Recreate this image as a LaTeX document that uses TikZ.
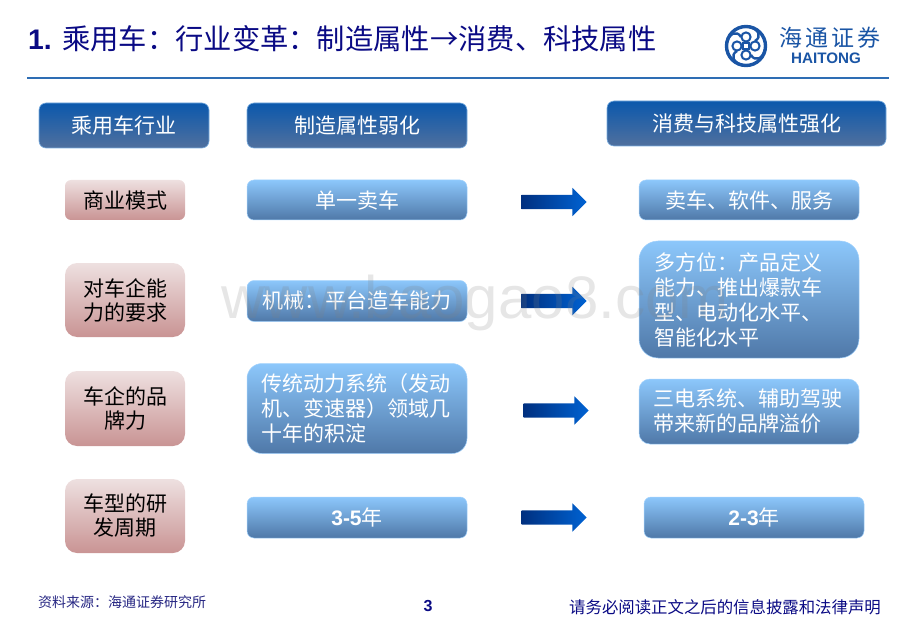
\documentclass[tikz,border=0pt]{standalone}
\usepackage{fontspec}
\setmainfont{Noto Sans CJK SC}
\newfontfamily\latinfont{Liberation Sans}
\usepackage{xcolor}
\usetikzlibrary{positioning,shapes.arrows}
\definecolor{titleblue}{HTML}{0A0A84}
\definecolor{ruleblue}{HTML}{2E6DB4}
\definecolor{logoblue}{HTML}{1A55A5}
\definecolor{headtop}{HTML}{0B58AC}
\definecolor{headmid}{HTML}{0A4F9F}
\definecolor{headbot}{HTML}{50709E}
\definecolor{skytop}{HTML}{8CC7FB}
\definecolor{skybot}{HTML}{4F78A8}
\definecolor{pinktop}{HTML}{EEE0E0}
\definecolor{pinkbot}{HTML}{C99494}
\definecolor{arrowtail}{HTML}{003080}
\definecolor{arrowtip}{HTML}{0062D2}

\begin{document}
\begin{tikzpicture}[x=1pt ,y=-1pt ,on grid ,
headbox/.style ={ rectangle ,rounded corners=7pt ,top color=headtop ,middle color=headmid ,bottom color=headbot , draw=skytop!70!headbot ,line width=.6pt , text=white ,font=\fontsize{21}{24}\selectfont ,inner sep=0pt ,minimum height=45pt},
skybox/.style ={ rectangle ,rounded corners=7pt ,top color=skytop ,bottom color=skybot , draw=skytop!80!white ,line width=.5pt , text=white ,font=\fontsize{21}{25}\selectfont ,inner sep=0pt ,minimum width=220pt ,minimum height=40pt},
pinkbox/.style ={ rectangle ,rounded corners=7pt ,top color=pinktop ,bottom color=pinkbot , text=black ,font=\fontsize{21}{24}\selectfont ,align=center ,inner sep=0pt ,minimum width=120pt ,minimum height=40pt},
bigarrow/.style ={ single arrow ,left color=arrowtail ,right color=arrowtip ,inner sep=7pt ,outer sep=0pt ,single arrow head extend=7pt ,minimum width=28pt ,minimum height=65pt}]
\useasboundingbox (0,0) rectangle (920,636);
% title and logo
\node[anchor=west ,inner sep=0pt ,text=titleblue ,font=\fontsize{28.3}{32}\selectfont] (title) at (28,39) {{\latinfont\bfseries 1. }乘用车：行业变革：制造属性→消费、科技属性};
\coordinate (ruleL) at (27,78);
\coordinate (ruleR) at (889,78);
\draw[ruleblue ,line width=1.6pt] (ruleL) -- (ruleR);
\node[circle ,draw=logoblue ,line width=3.4pt ,minimum size=39pt ,inner sep=0pt] (ring) at (746,46) {};
\foreach \ang in {0,90,180,270} {
\begin{scope}[shift={(ring.center)} ,rotate=\ang]
\draw[logoblue ,line width=2pt] (9,0) circle (4.6);
\draw[logoblue ,line width=2.4pt] (9,-5) .. controls (16,-9) and (13,-17) .. (3,-19);
\end{scope}
}
\node[fill=white ,draw=logoblue ,line width=1.6pt ,minimum size=6pt ,inner sep=0pt] (knot) at (ring.center) {};
\node[inner sep=0pt ,text=logoblue ,font=\fontsize{23}{25}\selectfont\addfontfeature{LetterSpace=12}] (brand) at (830,38) {海通证券};
\node[inner sep=0pt ,text=logoblue ,font=\fontsize{15.2}{17}\latinfont\bfseries] (haitong) at (826,58) {HAITONG};
% left column
\node[headbox ,minimum width=170pt] (industry) at (124,125.5) {乘用车行业};
\node[pinkbox ,rounded corners=6pt] (model) [below = 74.5pt of industry ,xshift=1pt] {商业模式};
\node[pinkbox ,minimum height=74pt ,rounded corners=12pt] (ability) [below = 100pt of model] {对车企能\\力的要求};
\node[pinkbox ,minimum height=75pt ,rounded corners=12pt] (brandpow) [below = 108.5pt of ability] {车企的品\\牌力};
\node[pinkbox ,minimum height=74pt ,rounded corners=12pt] (cycle) [below = 107.5pt of brandpow] {车型的研\\发周期};
% middle column
\node[headbox ,minimum width=220pt] (weak) [right = 233pt of industry] {制造属性弱化};
\node[skybox] (sellcar) [right = 232pt of model] {单一卖车};
\node[skybox ,minimum height=41pt] (mech) [right = 232pt of ability ,yshift=-1pt] {机械：平台造车能力};
\node[skybox ,minimum height=90pt ,rounded corners=15pt ,text width=192pt ,align=left] (power) [right = 232pt of brandpow] {传统动力系统（发动\\机、变速器）领域几\\十年的积淀};
\node[skybox ,minimum height=41pt] (years) [right = 232pt of cycle ,yshift=-1.5pt] {{\latinfont\bfseries 3-5}年};
% arrows
\node[bigarrow] (go1) [right = 193.5pt of sellcar ,yshift=-2pt] {};
\node[bigarrow] (go2) [right = 193.5pt of mech] {};
\node[bigarrow] (go3) [right = 195.5pt of power ,yshift=-2pt] {};
\node[bigarrow] (go4) [right = 193.5pt of years] {};
% right column
\node[headbox ,minimum width=279pt] (strong) at (746.5,123.5) {消费与科技属性强化};
\node[skybox] (service) at (749,200) {卖车、软件、服务};
\node[skybox ,minimum height=117pt ,rounded corners=19pt ,text width=189pt ,align=left] (multi) at (749,299.5) {多方位：产品定义\\能力、推出爆款车\\型、电动化水平、\\智能化水平};
\node[skybox ,minimum height=65pt ,rounded corners=11pt ,text width=192pt ,align=left] (three) at (749,411.5) {三电系统、辅助驾驶\\带来新的品牌溢价};
\node[skybox ,minimum height=41pt] (newyears) at (754,517.5) {{\latinfont\bfseries 2-3}年};
% footer
\node[anchor=west ,inner sep=0pt ,text=titleblue!75!gray ,font=\fontsize{14}{16}\selectfont] (source) at (38,602) {资料来源：海通证券研究所};
\node[inner sep=0pt ,text=titleblue ,font=\fontsize{16}{18}\latinfont\bfseries] (page) at (428,606) {3};
\node[anchor=east ,inner sep=0pt ,text=titleblue ,font=\fontsize{16.4}{18}\selectfont] (notice) at (881,607) {请务必阅读正文之后的信息披露和法律声明};
% watermark
\node[anchor=base ,inner sep=0pt ,text=gray ,text opacity=.2 ,font=\fontsize{60}{60}\latinfont] (mark) at (475,318) {www.baogao8.com};
\end{tikzpicture}
\end{document}
